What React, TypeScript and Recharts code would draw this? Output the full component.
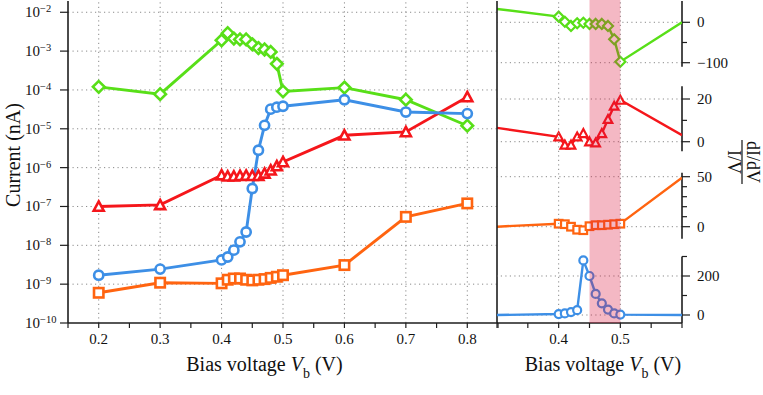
import React from 'react';
import { LineChart, Line, XAxis, YAxis, ReferenceLine, ReferenceArea } from 'recharts';

// ---------- data ----------
const VB_LEFT = [0.2, 0.3, 0.4, 0.41, 0.42, 0.43, 0.44, 0.45, 0.46, 0.47, 0.48, 0.49, 0.5, 0.6, 0.7, 0.8];
const I_GREEN = [1.2e-4, 7.8e-5, 1.9e-3, 2.9e-3, 2.1e-3, 2.0e-3, 2.0e-3, 1.5e-3, 1.2e-3, 1.1e-3, 9.5e-4, 4.7e-4, 9.2e-5, 1.15e-4, 5.6e-5, 1.2e-5];
const I_RED = [1.0e-7, 1.1e-7, 6.4e-7, 6.0e-7, 6.0e-7, 6.2e-7, 6.3e-7, 6.2e-7, 6.2e-7, 7.1e-7, 8.6e-7, 1.1e-6, 1.4e-6, 6.8e-6, 8.3e-6, 6.6e-5];
const I_ORANGE = [6.0e-10, 1.09e-9, 1.05e-9, 1.3e-9, 1.4e-9, 1.4e-9, 1.3e-9, 1.25e-9, 1.3e-9, 1.35e-9, 1.45e-9, 1.55e-9, 1.7e-9, 3.1e-9, 5.4e-8, 1.2e-7];
const I_BLUE = [1.7e-9, 2.44e-9, 4.2e-9, 5.0e-9, 7.5e-9, 1.23e-8, 2.2e-8, 2.9e-7, 2.8e-6, 1.23e-5, 3.2e-5, 3.6e-5, 3.8e-5, 5.6e-5, 2.7e-5, 2.46e-5];

const VB_RIGHT = [0.3, 0.4, 0.41, 0.42, 0.43, 0.44, 0.45, 0.46, 0.47, 0.48, 0.49, 0.5, 0.6];
const R_GREEN = [33, 14, 1.5, -9, -2.5, -1, -4, -4, -4, -9, -42, -97.5, 0];
const R_RED = [6.5, 2.3, -1.5, -1.5, 2.3, 3.9, 0, -0.5, 3.9, 10.5, 16.7, 19.5, 3.1];
const R_ORANGE = [0, 3, 2.5, 0, -3, -3.5, 0.5, 1.5, 1.5, 2, 2.5, 3, 49];
const R_BLUE = [0, 5, 8, 15, 25, 280, 200, 108, 60, 28, 8, 2, 0];

const X_TICKS_LEFT = [0.15, 0.2, 0.25, 0.3, 0.35, 0.4, 0.45, 0.5, 0.55, 0.6, 0.65, 0.7, 0.75, 0.8, 0.85];
const X_LABELS_LEFT = [0.2, 0.3, 0.4, 0.5, 0.6, 0.7, 0.8];
const X_TICKS_RIGHT = [0.3, 0.35, 0.4, 0.45, 0.5, 0.55, 0.6];
const X_LABELS_RIGHT = [0.4, 0.5];
const LOG_TICKS = [1e-10, 1e-9, 1e-8, 1e-7, 1e-6, 1e-5, 1e-4, 1e-3, 1e-2];
const LOG_EXPONENTS = ['−10', '−9', '−8', '−7', '−6', '−5', '−4', '−3', '−2'];

// ---------- style ----------
const W = 763;
const H = 395;
const AX = '#1e1e1e';
const GRID = '#8a8a8a';
const DASH = '1.2 3.3';
const FONT = '"Liberation Serif", "DejaVu Serif", serif';
const C_GREEN = '#58df18';
const C_RED = '#f5161b';
const C_ORANGE = '#ff6410';
const C_BLUE = '#3d8fe6';
const BAND = '#dc143c';

type Shape = 'circle' | 'square' | 'diamond' | 'triangle';

function marker(shape: Shape, color: string, s: number, sw: number, skipEnds: boolean, n: number) {
  return (p: any) => {
    const { cx, cy, index } = p;
    const key = `m${index}`;
    if (cx == null || cy == null || (skipEnds && (index === 0 || index === n - 1))) return <g key={key} />;
    const common = { fill: '#fff', stroke: color, strokeWidth: sw };
    if (shape === 'circle') return <circle key={key} cx={cx} cy={cy} r={s} {...common} />;
    if (shape === 'square') return <rect key={key} x={cx - s} y={cy - s} width={2 * s} height={2 * s} {...common} />;
    if (shape === 'diamond')
      return <path key={key} d={`M${cx},${cy - s}L${cx + s},${cy}L${cx},${cy + s}L${cx - s},${cy}Z`} {...common} />;
    return <path key={key} d={`M${cx},${cy - s}L${cx + s},${cy + s * 0.85}L${cx - s},${cy + s * 0.85}Z`} {...common} />;
  };
}

const fmt = (v: number) => (v < 0 ? '−' + Math.abs(v) : String(v));

const LogTick = (p: any) => {
  const idx = LOG_TICKS.findIndex((t) => Math.abs(Math.log10(t) - Math.log10(p.payload.value)) < 1e-6);
  return (
    <text x={25} y={p.y + 5} fontSize={15} fill="#111" fontFamily={FONT}>
      10<tspan dy={-5} fontSize={10.5}>{LOG_EXPONENTS[idx]}</tspan>
    </text>
  );
};

const makeXTick = (labels: number[]) => (p: any) => {
  const v = p.payload.value;
  const show = labels.some((l) => Math.abs(l - v) < 1e-6);
  if (!show) return <g />;
  return (
    <text x={p.x} y={344} textAnchor="middle" fontSize={15} fill="#111" fontFamily={FONT}>
      {v.toFixed(1)}
    </text>
  );
};

const makeRightTick = (major: number[]) => (p: any) => {
  const v = p.payload.value;
  const isMajor = major.includes(v);
  return (
    <g>
      <line x1={p.x} x2={p.x + (isMajor ? 8 : 5)} y1={p.y} y2={p.y} stroke={AX} strokeWidth={1.2} />
      {isMajor && (
        <text x={p.x + 15} y={p.y + 5} fontSize={15} fill="#111" fontFamily={FONT}>
          {fmt(v)}
        </text>
      )}
    </g>
  );
};

const EmptyTick = () => <g />;

const leftData = VB_LEFT.map((x, i) => ({ x, g: I_GREEN[i], r: I_RED[i], o: I_ORANGE[i], b: I_BLUE[i] }));

function LeftChart() {
  const n = VB_LEFT.length;
  return (
    <div style={{ position: 'absolute', left: 0, top: 0 }}>
      <LineChart width={W} height={H} data={leftData} margin={{ top: 1, left: 8, right: 265, bottom: 42 }}>
        <XAxis
          dataKey="x"
          type="number"
          domain={[0.15, 0.85]}
          allowDataOverflow
          ticks={X_TICKS_LEFT}
          interval={0}
          height={30}
          tickSize={5}
          tickLine={{ stroke: AX, strokeWidth: 1.2 }}
          axisLine={{ stroke: AX, strokeWidth: 1.6 }}
          tick={makeXTick(X_LABELS_LEFT)}
        />
        <XAxis
          xAxisId="top"
          orientation="top"
          type="number"
          domain={[0.15, 0.85]}
          height={0}
          tick={false}
          tickLine={false}
          axisLine={{ stroke: AX, strokeWidth: 1.6 }}
        />
        <YAxis
          scale="log"
          type="number"
          domain={[1e-10, 0.0195]}
          allowDataOverflow
          ticks={LOG_TICKS}
          interval={0}
          width={60}
          tickSize={8}
          tickLine={{ stroke: AX, strokeWidth: 1.2 }}
          axisLine={{ stroke: AX, strokeWidth: 1.6 }}
          tick={LogTick}
        />
        <YAxis
          yAxisId="r"
          orientation="right"
          scale="log"
          type="number"
          domain={[1e-10, 0.0195]}
          allowDataOverflow
          ticks={LOG_TICKS}
          interval={0}
          width={0}
          mirror
          tickSize={6}
          tickLine={{ stroke: AX, strokeWidth: 1.2 }}
          axisLine={{ stroke: AX, strokeWidth: 1.6 }}
          tick={EmptyTick}
        />
        {X_LABELS_LEFT.map((v) => (
          <ReferenceLine key={`vx${v}`} x={v} stroke={GRID} strokeDasharray={DASH} strokeWidth={1} />
        ))}
        {LOG_TICKS.slice(1).map((v) => (
          <ReferenceLine key={`hy${v}`} y={v} stroke={GRID} strokeDasharray={DASH} strokeWidth={1} />
        ))}
        <Line dataKey="o" stroke={C_ORANGE} strokeWidth={2.9} isAnimationActive={false} dot={marker('square', C_ORANGE, 4.7, 2.6, false, n)} activeDot={false} />
        <Line dataKey="g" stroke={C_GREEN} strokeWidth={2.9} isAnimationActive={false} dot={marker('diamond', C_GREEN, 5.8, 2.6, false, n)} activeDot={false} />
        <Line dataKey="r" stroke={C_RED} strokeWidth={2.9} isAnimationActive={false} dot={marker('triangle', C_RED, 5, 2.6, false, n)} activeDot={false} />
        <Line dataKey="b" stroke={C_BLUE} strokeWidth={2.9} isAnimationActive={false} dot={marker('circle', C_BLUE, 4.6, 2.6, false, n)} activeDot={false} />
      </LineChart>
    </div>
  );
}

type SubProps = {
  values: number[];
  color: string;
  shape: Shape;
  size: number;
  domain: [number, number];
  major: number[];
  minor: number[];
  span: [number, number];
  bottom?: boolean;
};

function SubChart({ values, color, shape, size, domain, major, minor, span, bottom }: SubProps) {
  const data = VB_RIGHT.map((x, i) => ({ x, y: values[i] }));
  const n = VB_RIGHT.length;
  const xh = bottom ? 30 : 0;
  const yw = 60;
  return (
    <div style={{ position: 'absolute', left: 0, top: 0 }}>
      <LineChart width={W} height={H} data={data} margin={{ top: 1, left: 497, right: 81 - yw, bottom: 72 - xh }}>
        <XAxis
          dataKey="x"
          type="number"
          domain={[0.3, 0.6]}
          allowDataOverflow
          hide={!bottom}
          ticks={X_TICKS_RIGHT}
          interval={0}
          height={xh}
          tickSize={5}
          tickLine={{ stroke: AX, strokeWidth: 1.2 }}
          axisLine={{ stroke: AX, strokeWidth: 1.6 }}
          tick={makeXTick(X_LABELS_RIGHT)}
        />
        <YAxis
          orientation="right"
          type="number"
          domain={domain}
          allowDataOverflow
          ticks={[...major, ...minor]}
          interval={0}
          width={yw}
          axisLine={false}
          tickLine={false}
          tickSize={0}
          tickMargin={0}
          tick={makeRightTick(major)}
        />
        {bottom &&
          X_LABELS_RIGHT.map((v) => (
            <ReferenceLine key={`rv${v}`} x={v} stroke={GRID} strokeDasharray={DASH} strokeWidth={1} />
          ))}
        {bottom && <ReferenceLine x={0.3} stroke={AX} strokeWidth={1.6} />}
        {major.map((v) => (
          <ReferenceLine key={`rh${v}`} y={v} stroke={GRID} strokeDasharray={DASH} strokeWidth={1} />
        ))}
        <ReferenceLine
          segment={[
            { x: 0.6, y: span[0] },
            { x: 0.6, y: span[1] },
          ]}
          stroke={AX}
          strokeWidth={1.6}
          ifOverflow="visible"
        />
        <Line
          dataKey="y"
          stroke={color}
          strokeWidth={2.4}
          isAnimationActive={false}
          dot={marker(shape, color, size, 2.2, true, n)}
          activeDot={false}
        />
      </LineChart>
    </div>
  );
}

function BandChart() {
  const data = [
    { x: 0.3, y: 0 },
    { x: 0.6, y: 1 },
  ];
  return (
    <div style={{ position: 'absolute', left: 0, top: 0 }}>
      <LineChart width={W} height={H} data={data} margin={{ top: 0, left: 497, right: 81, bottom: 72 }}>
        <XAxis dataKey="x" type="number" domain={[0.3, 0.6]} hide />
        <YAxis type="number" domain={[0, 1]} hide />
        <Line dataKey="y" stroke="none" dot={false} activeDot={false} isAnimationActive={false} />
        <ReferenceArea x1={0.45} x2={0.5} y1={0} y2={1} fill={BAND} fillOpacity={0.3} stroke="none" />
      </LineChart>
    </div>
  );
}

function Labels() {
  return (
    <svg width={W} height={H} style={{ position: 'absolute', left: 0, top: 0, pointerEvents: 'none' }} fontFamily={FONT}>
      <text transform="translate(20,155) rotate(-90)" textAnchor="middle" fontSize={20} fill="#111">
        Current (nA)
      </text>
      <text x={264.5} y={371} textAnchor="middle" fontSize={20} fill="#111">
        Bias voltage <tspan fontStyle="italic">V</tspan>
        <tspan dy={7} fontSize={14}>b</tspan>
        <tspan dy={-7}> (V)</tspan>
      </text>
      <text x={603} y={371} textAnchor="middle" fontSize={20} fill="#111">
        Bias voltage <tspan fontStyle="italic">V</tspan>
        <tspan dy={7} fontSize={14}>b</tspan>
        <tspan dy={-7}> (V)</tspan>
      </text>
      <g transform="translate(742,162) rotate(90)">
        <text x={0} y={-5} textAnchor="middle" fontSize={18} fill="#111">
          dI/dV
        </text>
        <line x1={-22} x2={22} y1={0} y2={0} stroke="#111" strokeWidth={1.2} />
        <text x={0} y={14} textAnchor="middle" fontSize={18} fill="#111">
          I/V
        </text>
      </g>
    </svg>
  );
}

export default function App() {
  return (
    <div style={{ position: 'absolute', left: 0, top: 0, width: W, height: H, background: '#fff' }}>
      <LeftChart />
      <SubChart values={R_GREEN} color={C_GREEN} shape="diamond" size={5} domain={[-744.3, 52.7]} major={[0, -100]} minor={[-50]} span={[-110, 52.7]} />
      <SubChart values={R_RED} color={C_RED} shape="triangle" size={4.3} domain={[-84.9, 65.9]} major={[20, 0]} minor={[10]} span={[-4.5, 26]} />
      <SubChart values={R_ORANGE} color={C_ORANGE} shape="square" size={3.8} domain={[-96.3, 225.7]} major={[50, 0]} minor={[10, 20, 30, 40]} span={[-12, 54]} />
      <SubChart values={R_BLUE} color={C_BLUE} shape="circle" size={4} domain={[-41, 1610]} major={[200, 0]} minor={[100, 300]} span={[-41, 300]} bottom />
      <BandChart />
      <Labels />
    </div>
  );
}
